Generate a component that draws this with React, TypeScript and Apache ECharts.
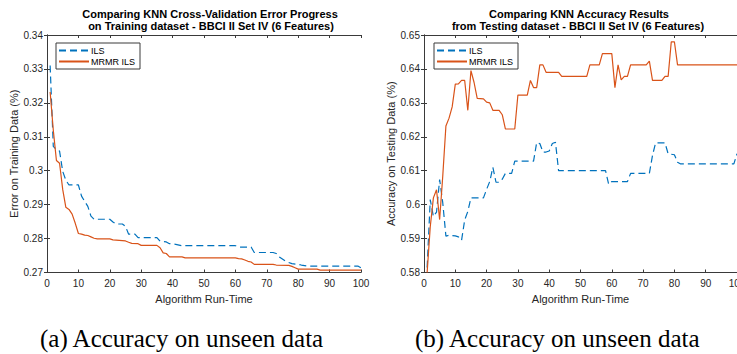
import React, { useEffect, useRef } from "react";
import * as echarts from "echarts";

// Left chart: cross-validation error on training data (run-time, error)
const trainIls: [number, number][] = [
  [1, 0.331], [2, 0.3072], [3, 0.3062], [4, 0.3058], [5, 0.2998], [6, 0.2972], [7, 0.2958],
  [10, 0.2958], [11, 0.2925], [12, 0.291], [13, 0.2895], [14, 0.2866], [15, 0.2857], [20, 0.2857],
  [21, 0.2849], [22, 0.2843], [24, 0.2843], [25, 0.2836], [26, 0.2813], [28, 0.2813], [29, 0.2803],
  [35, 0.2803], [36, 0.2792], [38, 0.279], [39, 0.2785], [41, 0.2783], [43, 0.2779], [60, 0.2779],
  [61, 0.2775], [65, 0.2775], [66, 0.2759], [72, 0.2759], [73, 0.2756], [74, 0.2746], [76, 0.2733],
  [78, 0.2726], [80, 0.2724], [81, 0.2722], [83, 0.2719], [99, 0.2719], [100, 0.2714],
];
const trainMrmr: [number, number][] = [
  [1, 0.3232], [2, 0.312], [3, 0.303], [4, 0.3022], [5, 0.2945], [6, 0.2892], [7, 0.2886],
  [8, 0.2872], [9, 0.2845], [10, 0.2815], [11, 0.2813], [12, 0.281], [13, 0.2809], [14, 0.2805],
  [15, 0.2801], [16, 0.2799], [20, 0.2799], [21, 0.2796], [25, 0.2793], [26, 0.2789], [27, 0.2786],
  [29, 0.2785], [30, 0.278], [35, 0.278], [36, 0.2773], [37, 0.2758], [38, 0.2756], [39, 0.2746],
  [43, 0.2746], [44, 0.2743], [60, 0.2743], [61, 0.2741], [62, 0.274], [63, 0.2737], [64, 0.2733],
  [65, 0.2731], [66, 0.2724], [72, 0.2724], [73, 0.2722], [77, 0.2721], [78, 0.2718], [79, 0.2714],
  [80, 0.271], [86, 0.271], [87, 0.2707], [100, 0.2707],
];

// Right chart: accuracy on testing data (run-time, accuracy)
const testIls: [number, number][] = [
  [1, 0.5815], [2, 0.6015], [3, 0.5965], [4, 0.5978], [5, 0.6074], [6, 0.6005], [7, 0.5907],
  [8, 0.591], [10, 0.5908], [11, 0.5905], [12, 0.5895], [13, 0.5955], [14, 0.598], [15, 0.602],
  [19, 0.602], [20, 0.6045], [21, 0.6068], [22, 0.611], [23, 0.6066], [24, 0.6066], [25, 0.6075],
  [26, 0.6092], [28, 0.6092], [29, 0.6128], [35, 0.6128], [36, 0.6183], [37, 0.618], [38, 0.6155],
  [39, 0.6155], [40, 0.6158], [41, 0.618], [42, 0.6184], [43, 0.61], [58, 0.61], [59, 0.606],
  [60, 0.6068], [65, 0.6068], [66, 0.6092], [72, 0.6092], [73, 0.6145], [74, 0.6182], [77, 0.6182],
  [78, 0.615], [80, 0.6147], [81, 0.6125], [82, 0.612], [99, 0.612], [100, 0.615],
];
const testMrmr: [number, number][] = [
  [1, 0.58], [2, 0.5935], [3, 0.602], [4, 0.6044], [5, 0.5956], [6, 0.6085], [7, 0.6232],
  [8, 0.6255], [9, 0.6288], [10, 0.6355], [11, 0.6356], [12, 0.6366], [13, 0.6366], [14, 0.6278],
  [15, 0.6395], [16, 0.636], [17, 0.6313], [19, 0.6312], [20, 0.6302], [21, 0.63], [22, 0.6278],
  [24, 0.6278], [25, 0.6265], [26, 0.6223], [29, 0.6223], [30, 0.6323], [33, 0.6323], [34, 0.6366],
  [35, 0.6345], [36, 0.6345], [37, 0.6412], [38, 0.6412], [39, 0.639], [43, 0.639], [44, 0.6378],
  [52, 0.6378], [53, 0.6412], [56, 0.6412], [57, 0.6445], [60, 0.6445], [61, 0.6345], [62, 0.6412],
  [63, 0.6368], [64, 0.6378], [65, 0.6378], [66, 0.6412], [71, 0.6412], [72, 0.6423], [73, 0.6366],
  [76, 0.6366], [77, 0.6378], [78, 0.6378], [79, 0.648], [80, 0.648], [81, 0.6412], [100, 0.6412],
];

const seriesNames = ["ILS", "MRMR ILS"];
const titlesLeft = ["Comparing KNN Cross-Validation Error Progress", "on Training dataset - BBCI II Set IV (6 Features)"];
const titlesRight = ["Comparing KNN Accuracy Results", "from Testing dataset - BBCI II Set IV (6 Features)"];
const xName = "Algorithm Run-Time";
const yNameLeft = "Error on Training Data (%)";
const yNameRight = "Accuracy on Testing Data (%)";
const captions = ["(a) Accuracy on unseen data", "(b) Accuracy on unseen data"];

const BLUE = "#0072BD";
const ORANGE = "#D95319";
const AXIS = "#3a3a3a";
const FONT = '"Liberation Sans", Arial, Helvetica, sans-serif';

function xAxisPair(gridIndex: number) {
  const base = {
    type: "value",
    gridIndex,
    min: 0,
    max: 100,
    interval: 10,
    splitLine: { show: false },
    axisLine: { show: true, lineStyle: { color: AXIS, width: 1 } },
    axisTick: { show: true, inside: true, length: 3, lineStyle: { color: AXIS } },
  };
  return [
    {
      ...base,
      position: "bottom",
      name: xName,
      nameLocation: "middle",
      nameGap: 20,
      nameTextStyle: { fontFamily: FONT, fontSize: 11, color: "#262626" },
      axisLabel: { show: true, margin: 6, fontFamily: FONT, fontSize: 10, color: "#262626", hideOverlap: false },
    },
    { ...base, position: "top", axisLabel: { show: false } },
  ];
}

function yAxisPair(gridIndex: number, min: number, max: number, name: string) {
  const base = {
    type: "value",
    gridIndex,
    min,
    max,
    interval: 0.01,
    splitLine: { show: false },
    axisLine: { show: true, lineStyle: { color: AXIS, width: 1 } },
    axisTick: { show: true, inside: true, length: 3, lineStyle: { color: AXIS } },
  };
  return [
    {
      ...base,
      position: "left",
      name,
      nameLocation: "middle",
      nameGap: 27,
      nameTextStyle: { fontFamily: FONT, fontSize: 11, color: "#262626" },
      axisLabel: { show: true, margin: 4, fontFamily: FONT, fontSize: 10, color: "#262626" },
    },
    { ...base, position: "right", axisLabel: { show: false } },
  ];
}

function line(name: string, data: [number, number][], idx: number, dashed: boolean) {
  return {
    type: "line",
    name,
    data,
    xAxisIndex: idx,
    yAxisIndex: idx,
    symbol: "none",
    showSymbol: false,
    clip: true,
    lineStyle: { color: dashed ? BLUE : ORANGE, width: 1.2, type: dashed ? [7, 4] : "solid" },
    itemStyle: { color: dashed ? BLUE : ORANGE },
  };
}

function legend(left: number, top: number) {
  return {
    data: seriesNames,
    orient: "vertical",
    left,
    top,
    itemWidth: 30,
    itemHeight: 10,
    itemGap: 2,
    padding: [3, 5, 3, 2],
    backgroundColor: "#fff",
    borderColor: AXIS,
    borderWidth: 1,
    borderRadius: 0,
    selectedMode: false,
    itemStyle: { opacity: 0 },
    textStyle: { fontFamily: FONT, fontSize: 9, color: "#000", padding: [0, 0, 0, -3] },
  };
}

function text(str: string, x: number, y: number, font: string, size: number, weight: string, color: string, align = "center") {
  return {
    type: "text",
    x,
    y,
    z: 100,
    style: {
      text: str,
      fontFamily: font,
      fontSize: size,
      fontWeight: weight,
      fill: color,
      align,
      verticalAlign: "middle",
    },
  };
}

export default function App() {
  const ref = useRef<HTMLDivElement>(null);
  useEffect(() => {
    if (!ref.current) return;
    const chart = echarts.init(ref.current, undefined, { renderer: "svg" });
    const serif = '"Liberation Serif", "Times New Roman", serif';
    chart.setOption({
      animation: false,
      backgroundColor: "#fff",
      grid: [
        { left: 47, top: 35, width: 314, height: 237.5, outerBoundsMode: "none", containLabel: false },
        { left: 424, top: 35, width: 313, height: 237.5, outerBoundsMode: "none", containLabel: false },
      ],
      xAxis: [...xAxisPair(0), ...xAxisPair(1)],
      yAxis: [...yAxisPair(0, 0.27, 0.34, yNameLeft), ...yAxisPair(1, 0.58, 0.65, yNameRight)],
      legend: [legend(56, 43), legend(434, 43)],
      series: [
        line(seriesNames[0], trainIls, 0, true),
        line(seriesNames[1], trainMrmr, 0, false),
        line(seriesNames[0], testIls, 2, true),
        line(seriesNames[1], testMrmr, 2, false),
      ],
      graphic: [
        text(titlesLeft[0], 210, 14, FONT, 11, "bold", "#000"),
        text(titlesLeft[1], 211, 26, FONT, 11, "bold", "#000"),
        text(titlesRight[0], 579, 14, FONT, 11, "bold", "#000"),
        text(titlesRight[1], 578, 26, FONT, 11, "bold", "#000"),
        text(captions[0], 40, 338, serif, 25, "normal", "#000", "left"),
        text(captions[1], 415, 338, serif, 25, "normal", "#000", "left"),
      ],
    });
    return () => chart.dispose();
  }, []);
  return (
    <div style={{ position: "absolute", left: 0, top: 0, width: 737, height: 354, overflow: "hidden", background: "#fff" }}>
      <div ref={ref} style={{ width: 737, height: 354 }} />
    </div>
  );
}
